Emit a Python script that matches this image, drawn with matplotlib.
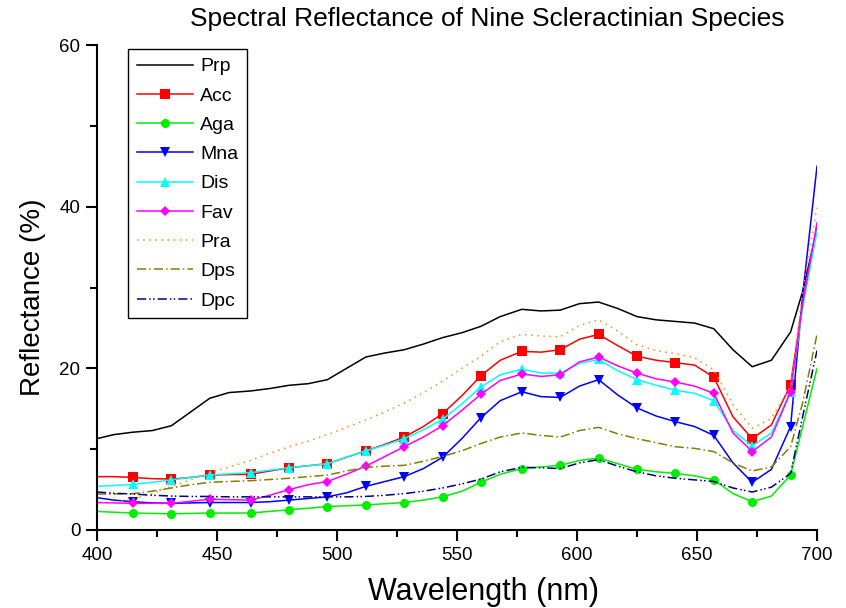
import matplotlib
matplotlib.use("Agg")
import matplotlib.pyplot as plt
from matplotlib.ticker import MultipleLocator

plt.rcParams['font.family'] = ['Liberation Sans', 'DejaVu Sans']

# wavelength grid (nm); markers sit on every second point starting at 415
wavelength = [400, 407, 415, 423, 431, 439, 447, 455, 464, 472, 480, 488, 496, 504, 512,
              520, 528, 536, 544, 552, 560, 568, 577, 585, 593, 601, 609, 617, 625, 633,
              641, 649, 657, 665, 673, 681, 689, 694, 700]

prp = [11.3, 11.8, 12.1, 12.3, 12.9, 14.6, 16.3, 17.0, 17.2, 17.5, 17.9, 18.1, 18.6, 20.0, 21.4,
       21.9, 22.3, 23.0, 23.8, 24.4, 25.2, 26.4, 27.3, 27.1, 27.2, 28.0, 28.2, 27.4, 26.4, 26.0,
       25.8, 25.6, 24.9, 22.3, 20.2, 21.0, 24.5, 29.5, 37.2]
acc = [6.6, 6.6, 6.5, 6.35, 6.3, 6.5, 6.8, 6.85, 6.9, 7.3, 7.7, 7.95, 8.2, 9.0, 9.8,
       10.6, 11.5, 12.8, 14.4, 16.6, 19.1, 21.0, 22.1, 22.0, 22.3, 23.6, 24.2, 22.8, 21.5, 21.0,
       20.7, 20.4, 18.9, 14.0, 11.3, 13.0, 18.0, 28.0, 37.5]
aga = [2.3, 2.2, 2.1, 2.05, 2.0, 2.05, 2.1, 2.1, 2.1, 2.3, 2.5, 2.7, 2.9, 3.0, 3.1,
       3.25, 3.4, 3.7, 4.1, 4.8, 5.9, 6.9, 7.6, 7.8, 8.0, 8.6, 8.9, 8.2, 7.5, 7.2,
       7.0, 6.7, 6.2, 4.5, 3.5, 4.2, 6.8, 12.8, 20.0]
mna = [4.0, 3.7, 3.5, 3.35, 3.3, 3.35, 3.4, 3.4, 3.4, 3.5, 3.7, 3.9, 4.1, 4.6, 5.4,
       6.0, 6.6, 7.6, 9.0, 11.3, 13.9, 16.0, 17.1, 16.5, 16.4, 17.8, 18.6, 16.7, 15.1, 14.1,
       13.4, 12.8, 11.7, 8.3, 5.9, 7.5, 12.8, 29.0, 45.0]
dis = [5.4, 5.5, 5.65, 5.9, 6.2, 6.5, 6.8, 6.95, 7.1, 7.4, 7.7, 7.95, 8.2, 9.0, 9.8,
       10.5, 11.3, 12.4, 13.7, 15.6, 17.7, 19.2, 19.9, 19.4, 19.4, 20.6, 21.1, 19.7, 18.6, 17.9,
       17.3, 16.9, 16.0, 12.3, 10.4, 12.0, 17.1, 27.5, 37.0]
fav = [3.4, 3.35, 3.3, 3.3, 3.3, 3.55, 3.8, 3.75, 3.7, 4.3, 5.0, 5.6, 6.0, 6.9, 7.9,
       9.1, 10.3, 11.5, 12.9, 14.8, 16.8, 18.5, 19.3, 19.0, 19.2, 20.8, 21.4, 20.3, 19.4, 18.7,
       18.3, 17.8, 16.9, 12.0, 9.7, 11.5, 17.1, 28.0, 38.0]
pra = [3.3, 3.4, 3.8, 4.5, 5.4, 6.2, 7.0, 7.8, 8.6, 9.5, 10.3, 11.0, 11.8, 12.7, 13.6,
       14.6, 15.7, 17.0, 18.4, 20.0, 21.5, 23.3, 24.2, 24.0, 23.9, 25.3, 26.0, 24.6, 22.9, 22.2,
       21.8, 21.3, 19.8, 15.5, 12.6, 13.8, 17.8, 29.5, 40.0]
dps = [4.45, 4.45, 4.5, 4.8, 5.2, 5.6, 5.9, 6.0, 6.1, 6.25, 6.4, 6.6, 6.8, 7.3, 7.75,
       7.9, 8.0, 8.5, 9.1, 9.8, 10.7, 11.5, 12.0, 11.7, 11.5, 12.3, 12.7, 11.9, 11.3, 10.8,
       10.3, 10.1, 9.7, 8.3, 7.3, 7.8, 10.3, 15.7, 24.2]
dpc = [4.7, 4.55, 4.45, 4.3, 4.2, 4.15, 4.15, 4.1, 4.1, 4.1, 4.1, 4.1, 4.1, 4.1, 4.15,
       4.3, 4.5, 4.8, 5.2, 5.7, 6.3, 7.2, 7.75, 7.7, 7.6, 8.3, 8.7, 7.9, 7.2, 6.7,
       6.4, 6.2, 6.0, 5.2, 4.7, 5.3, 7.0, 14.0, 22.2]

series = [
    ("Prp", prp, dict(color="black", ls="-")),
    ("Acc", acc, dict(color="#ff0000", ls="-", marker="s")),
    ("Aga", aga, dict(color="#00ee00", ls="-", marker="o")),
    ("Mna", mna, dict(color="#0000ff", ls="-", marker="v")),
    ("Dis", dis, dict(color="#00ffff", ls="-", marker="^")),
    ("Fav", fav, dict(color="#ff00ff", ls="-", marker="D")),
    ("Pra", pra, dict(color="#ff8c1a", ls=(0, (1, 3)))),
    ("Dps", dps, dict(color="#808000", ls=(0, (6, 2, 1, 2)))),
    ("Dpc", dpc, dict(color="#000080", ls=(0, (6, 2, 1, 1.5, 1, 2)))),
]

fig = plt.figure(figsize=(8.46, 6.08), dpi=100)
ax = fig.add_axes([97 / 846, 78 / 608, 720 / 846, 485 / 608])

for name, vals, st in series:
    kw = dict(lw=1.1, label=name, **st)
    if "marker" in st:
        ms = 5.5 if st["marker"] == "D" else 6.5
        kw.update(markevery=slice(2, 37, 2), markersize=ms, markeredgewidth=0)
    ax.plot(wavelength, vals, **kw)

ax.set_xlim(400, 700)
ax.set_ylim(0, 60)
ax.xaxis.set_major_locator(MultipleLocator(50))
ax.xaxis.set_minor_locator(MultipleLocator(25))
ax.yaxis.set_major_locator(MultipleLocator(20))
ax.yaxis.set_minor_locator(MultipleLocator(10))
ax.tick_params(which="major", direction="out", length=8, width=1.5, labelsize=13.5, pad=4)
ax.tick_params(which="minor", direction="out", length=5, width=1.5)
for s in ("top", "right"):
    ax.spines[s].set_visible(False)
for s in ("left", "bottom"):
    ax.spines[s].set_linewidth(1.5)

fig.text(483 / 846, 1 - 592 / 608, "Wavelength (nm)", ha="center", va="center", fontsize=22)
fig.text(33 / 846, 1 - 297 / 608, "Reflectance (%)", ha="center", va="center",
         rotation=90, fontsize=20)
fig.text(487 / 846, 1 - 19 / 608, "Spectral Reflectance of Nine Scleractinian Species",
         ha="center", va="center", fontsize=19)

leg = ax.legend(loc="upper left", bbox_to_anchor=(31 / 720, 1 - 4 / 485), fontsize=14,
                frameon=True, fancybox=False, edgecolor="black", framealpha=1,
                handlelength=2.9, handletextpad=0.35, labelspacing=0.6, borderpad=0.45,
                borderaxespad=0)
leg.get_frame().set_linewidth(1.0)

fig.savefig("out.png", dpi=100)
